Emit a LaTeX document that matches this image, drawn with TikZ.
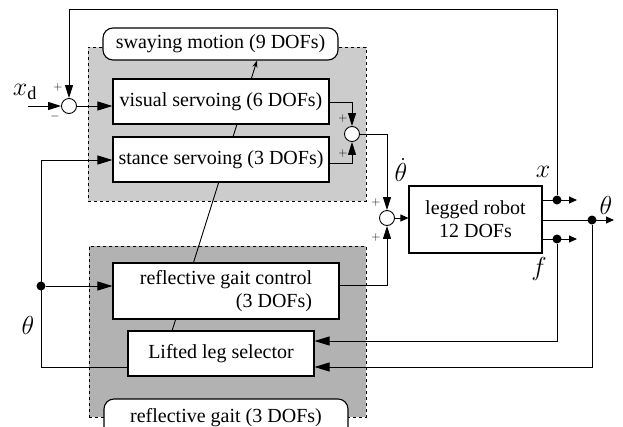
\documentclass[tikz,border=0pt]{standalone}
\usepackage{fix-cm}
\usepackage{fontspec}
\setmainfont{Liberation Serif}
\usetikzlibrary{arrows.meta,calc}
\begin{document}
\begin{tikzpicture}[x=1pt,y=-1pt,line width=0.9pt,
  blk/.style={draw,line width=1.1pt,fill=white,inner sep=0pt,font=\fontsize{20}{23}\selectfont},
  lbl/.style={draw,line width=1.1pt,fill=white,rounded corners=10pt,inner sep=0pt,font=\fontsize{20}{23}\selectfont},
  grp/.style={draw,dashed,line width=0.7pt,inner sep=0pt},
  sumc/.style={circle,draw,fill=white,minimum size=15pt,inner sep=0pt},
  dotc/.style={circle,fill=black,minimum size=9pt,inner sep=0pt},
  big/.style={-{Triangle[length=15pt,width=9pt]}},
  sarr/.style={-{Triangle[length=13pt,width=8pt]}},
  tarr/.style={-{Triangle[length=8pt,width=7pt]}},
  mlab/.style={font=\fontsize{26}{28}\selectfont,inner sep=0pt},
  pm/.style={font=\fontsize{12}{13}\selectfont,inner sep=0pt}]
\useasboundingbox (0,0) rectangle (623,426);
% group backgrounds
\node[grp,fill=gray!40,minimum width=278pt,minimum height=154pt] (swaygrp) at (227,124) {};
\node[grp,fill=gray!60,minimum width=277pt,minimum height=171pt] (gaitgrp) at (227.5,331.5) {};
% labels of groups
\node[lbl,minimum width=235pt,minimum height=32pt] (swaylbl) at (220.5,44) {swaying motion (9 DOFs)};
\node[lbl,minimum width=244pt,minimum height=38pt] (gaitlbl) at (226,418) {reflective gait (3 DOFs)};
% connection line through blocks
\coordinate (lsA) at (172,331);
\draw[-{Stealth[length=7pt,width=5pt]}] (lsA) -- (swaylbl.south -| 257,0);
% blocks
\node[blk,minimum width=216pt,minimum height=45pt] (vis) at (221,101.5) {visual servoing (6 DOFs)};
\node[blk,minimum width=216pt,minimum height=45pt] (stance) at (221,159.5) {stance servoing (3 DOFs)};
\node[blk,minimum width=226pt,minimum height=56pt,align=right] (rgc) at (226,291) {reflective gait control\\(3 DOFs)};
\node[blk,minimum width=186pt,minimum height=45pt] (lls) at (221,353.5) {Lifted leg selector};
\node[blk,minimum width=133pt,minimum height=67pt,align=center] (robot) at (475.5,219.5) {legged robot\\12 DOFs};
% summing junctions
\node[sumc] (s0) at (69,106) {};
\node[sumc] (s1) at (352,134) {};
\node[sumc] (s2) at (387,218) {};
% dots
\node[dotc] (dx) at (557,200) {};
\node[dotc] (dth) at (592,220) {};
\node[dotc] (df) at (557,239) {};
\node[dotc] (dthl) at (41,286) {};
% coordinates
\coordinate (xin) at (28,106);
\coordinate (topL) at (69,9);
\coordinate (topR) at (557,9);
\coordinate (xout) at (577,200);
\coordinate (thout) at (614,220);
\coordinate (fout) at (577,239);
\coordinate (stin) at (41,160);
\coordinate (fb1) at (557,341);
\coordinate (fb2) at (592,367);
\coordinate (thl) at (41,367);
% signals
\draw[sarr] (xin) -- (s0.west);
\draw[sarr] (dx) -- (topR) -- (topL) -- (s0.north);
\draw[big] (s0.east) -- (vis.west |- s0);
\draw[sarr] ($(vis.east)+(0,0.5)$) -| (s1.north);
\draw[sarr] ($(stance.east)+(0,3.5)$) -| (s1.south);
\draw[sarr] (s1.east) -| (s2.north);
\draw[sarr] ($(rgc.east)+(0,-6)$) -| (s2.south);
\draw[tarr] (s2.east) -- (robot.west |- s2);
\draw[tarr] (robot.east |- dx) -- (xout);
\draw[tarr] (robot.east |- dth) -- (thout);
\draw[tarr] (robot.east |- df) -- (fout);
\draw (dx) -- (robot.east |- dx);
\draw[big] (df) -- (fb1) -- (lls.east |- fb1);
\draw[big] (dth) -- (fb2) -- (lls.east |- fb2);
\draw (lls.west |- thl) -- (thl) -- (stin);
\draw[big] (stin) -- (stance.west |- stin);
\draw[big] (dthl) -- (rgc.west |- dthl);
% labels
\node[mlab] (lxd) at (25,92) {$x_{\mathrm{d}}$};
\node[pm] (p0) at (58,87) {$+$};
\node[pm] (m0) at (55,116) {$-$};
\node[pm] (p1a) at (343,118) {$+$};
\node[pm] (p1b) at (343,153) {$+$};
\node[pm] (p2a) at (376,202) {$+$};
\node[pm] (p2b) at (376,237) {$+$};
\node[mlab] (lthd) at (401,170) {$\dot\theta$};
\node[mlab] (lx) at (543,172) {$x$};
\node[mlab] (lf) at (539,269) {$f$};
\node[mlab] (lthr) at (606,205) {$\theta$};
\node[mlab] (lthl) at (28,325) {$\theta$};
\end{tikzpicture}
\end{document}
